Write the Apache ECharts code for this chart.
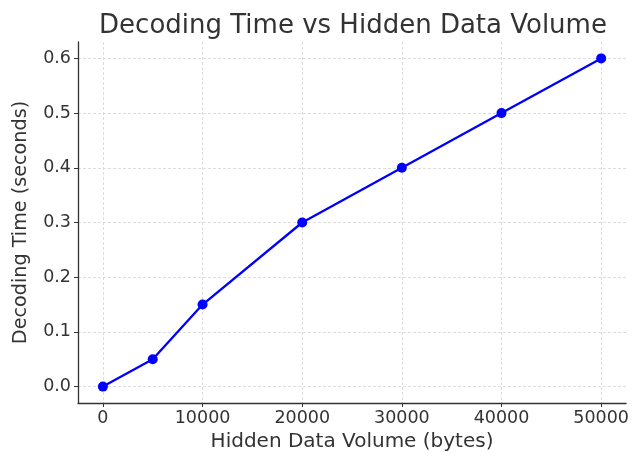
<!DOCTYPE html>
<html>
<head>
<meta charset="utf-8">
<script src="https://cdn.jsdelivr.net/npm/echarts@6/dist/echarts.min.js"></script>
<style>html,body{margin:0;padding:0;background:#fff}#c{width:632px;height:457px}</style>
</head>
<body>
<div id="c"></div>
<script>
const volumes = [0, 5000, 10000, 20000, 30000, 40000, 50000];
const times = [0.0, 0.05, 0.15, 0.3, 0.4, 0.5, 0.6];
const xTicks = [0, 10000, 20000, 30000, 40000, 50000];
const yTicks = [0.0, 0.1, 0.2, 0.3, 0.4, 0.5, 0.6];

const chart = echarts.init(document.getElementById('c'));
const font = 'DejaVu Sans';
chart.setOption({
  animation: false,
  backgroundColor: '#fff',
  title: {
    text: 'Decoding Time vs Hidden Data Volume',
    left: 348, top: 8, textAlign: 'center',
    textStyle: {fontFamily: font, fontSize: 26, fontWeight: 'normal', color: '#333'}
  },
  grid: {left: 78, right: 4, top: 42, bottom: 52},
  xAxis: {
    type: 'value', min: -2500, max: 52500,
    name: 'Hidden Data Volume (bytes)', nameLocation: 'middle', nameGap: 29,
    nameTextStyle: {fontFamily: font, fontSize: 20, color: '#333'},
    axisLine: {show: true, onZero: false, lineStyle: {color: '#333', width: 1.3}},
    axisTick: {show: true, length: 4, customValues: xTicks, lineStyle: {color: '#333'}},
    axisLabel: {customValues: xTicks, fontFamily: font, fontSize: 17.5, color: '#333', margin: 6,
      formatter: v => String(v)},
    splitLine: {show: true, lineStyle: {color: '#d4d4d4', type: [3, 2], width: 0.8}}
  },
  yAxis: {
    type: 'value', min: -0.03, max: 0.63,
    name: 'Decoding Time (seconds)', nameLocation: 'middle', nameGap: 47,
    nameTextStyle: {fontFamily: font, fontSize: 19.2, color: '#333'},
    axisLine: {show: true, onZero: false, lineStyle: {color: '#333', width: 1.3}},
    axisTick: {show: true, length: 4, customValues: yTicks, lineStyle: {color: '#333'}},
    axisLabel: {customValues: yTicks, fontFamily: font, fontSize: 17.5, color: '#333', margin: 7,
      formatter: v => v.toFixed(1)},
    splitLine: {show: true, lineStyle: {color: '#d4d4d4', type: [3, 2], width: 0.8}}
  },
  series: [{
    type: 'line',
    data: volumes.map((v, i) => [v, times[i]]),
    lineStyle: {color: '#0000ff', width: 2.3},
    itemStyle: {color: '#0000ff'},
    symbol: 'circle', symbolSize: 10,
    showSymbol: true
  }]
});
</script>
</body>
</html>
